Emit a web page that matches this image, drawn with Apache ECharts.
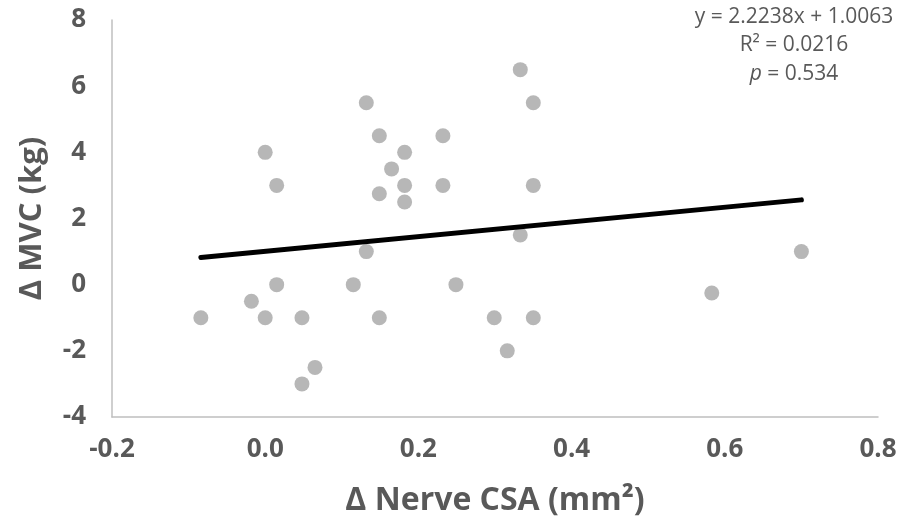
<!DOCTYPE html>
<html>
<head>
<meta charset="utf-8">
<script src="https://cdn.jsdelivr.net/npm/echarts@6/dist/echarts.min.js"></script>
<style>
  html, body { margin: 0; padding: 0; background: #fff; }
  #chart { width: 900px; height: 531px; }
</style>
</head>
<body>
<div id="chart"></div>
<script>
// Δ nerve CSA (mm²) vs Δ MVC (kg), one entry per subject
const csaChange = [0.132, 0.149, 0.232, 0.0, 0.182, 0.165, 0.015, 0.182, 0.232, 0.149,
  0.182, 0.333, 0.350, 0.350, 0.333, 0.700, 0.132, 0.015, 0.115, -0.018,
  -0.084, 0.0, 0.048, 0.149, 0.065, 0.048, 0.249, 0.299, 0.350, 0.316, 0.583]
const mvcChange = [5.5, 4.5, 4.5, 4.0, 4.0, 3.5, 3.0, 3.0, 3.0, 2.75,
  2.5, 6.5, 5.5, 3.0, 1.5, 1.0, 1.0, 0.0, 0.0, -0.5,
  -1.0, -1.0, -1.0, -1.0, -2.5, -3.0, 0.0, -1.0, -1.0, -2.0, -0.25]

// linear fit printed on the figure
const slope = 2.2238
const intercept = 1.0063
const rSquared = '0.0216'
const pValue = '0.534'

const xTicks = { min: -0.2, max: 0.8, interval: 0.2 }
const yTicks = { min: -4, max: 8, interval: 2 }

const points = csaChange.map((x, i) => [x, mvcChange[i]])
const xLo = Math.min(...csaChange)
const xHi = Math.max(...csaChange)
const fitLine = [[xLo, slope * xLo + intercept], [xHi, slope * xHi + intercept]]

const grey = '#595959'
const font = "'Open Sans', 'Liberation Sans', sans-serif"

const chart = echarts.init(document.getElementById('chart'), null, { renderer: 'canvas' })

chart.setOption({
  animation: false,
  backgroundColor: '#ffffff',
  grid: { left: 112, right: 22, top: 20, bottom: 114, containLabel: false },
  xAxis: {
    type: 'value',
    min: xTicks.min,
    max: xTicks.max,
    interval: xTicks.interval,
    name: 'Δ Nerve CSA (mm²)',
    nameLocation: 'middle',
    nameGap: 68,
    nameTextStyle: { color: grey, fontFamily: font, fontWeight: 'bold', fontSize: 32 },
    axisLine: { onZero: false, lineStyle: { color: '#bfbfbf', width: 1.5 } },
    axisTick: { show: false },
    splitLine: { show: false },
    axisLabel: {
      color: grey, fontFamily: font, fontWeight: 'bold', fontSize: 26, margin: 20,
      formatter: v => v.toFixed(1)
    }
  },
  yAxis: {
    type: 'value',
    min: yTicks.min,
    max: yTicks.max,
    interval: yTicks.interval,
    name: 'Δ MVC (kg)',
    nameLocation: 'middle',
    nameGap: 64,
    nameTextStyle: { color: grey, fontFamily: font, fontWeight: 'bold', fontSize: 31 },
    axisLine: { onZero: false, lineStyle: { color: '#bfbfbf', width: 1.5 } },
    axisTick: { show: false },
    splitLine: { show: false },
    axisLabel: { color: grey, fontFamily: font, fontWeight: 'bold', fontSize: 26, margin: 26 }
  },
  series: [
    {
      type: 'scatter',
      data: points,
      symbol: 'circle',
      symbolSize: 15,
      itemStyle: { color: '#a5a5a5' },
      z: 2
    },
    {
      type: 'line',
      data: fitLine,
      symbol: 'none',
      lineStyle: { color: '#000000', width: 5, cap: 'round' },
      z: 3
    }
  ],
  graphic: [
    {
      type: 'text', x: 794, y: 7,
      style: { text: 'y = ' + slope + 'x + ' + intercept, fill: grey, font: '21px ' + font, textAlign: 'center' }
    },
    {
      type: 'text', x: 794, y: 35,
      style: { text: 'R² = ' + rSquared, fill: grey, font: '21px ' + font, textAlign: 'center' }
    },
    {
      type: 'text', x: 794, y: 64,
      style: {
        text: '{i|p} = ' + pValue, fill: grey, font: '21px ' + font, textAlign: 'center',
        rich: { i: { fontStyle: 'italic', fontSize: 21, fontFamily: font, fill: grey } }
      }
    }
  ]
})
</script>
</body>
</html>
